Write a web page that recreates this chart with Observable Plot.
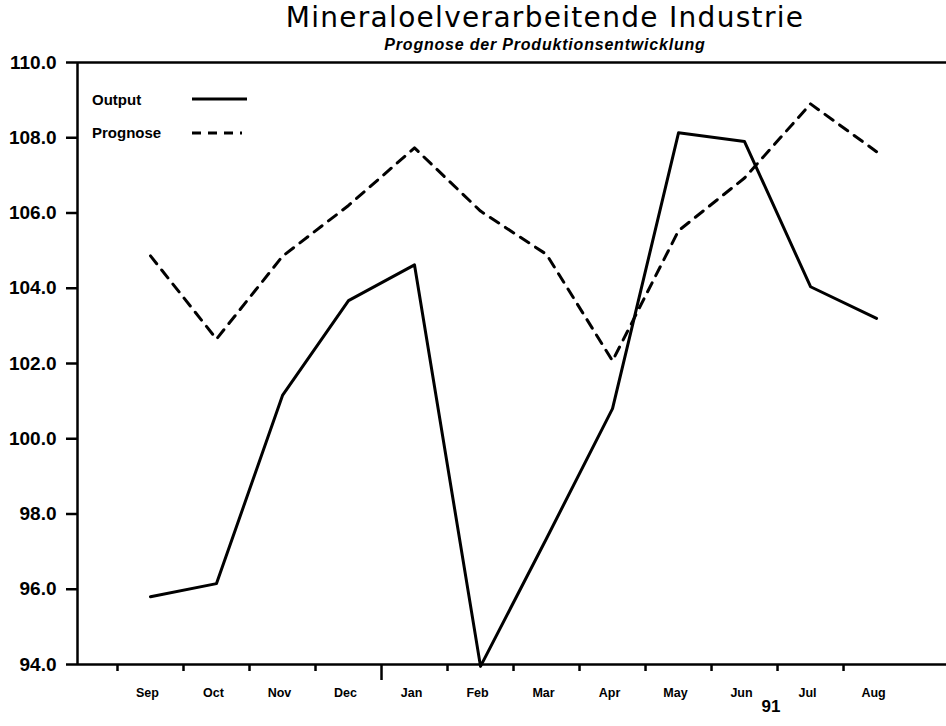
<!DOCTYPE html>
<html>
<head>
<meta charset="utf-8">
<script src="https://cdn.jsdelivr.net/npm/d3@7"></script>
<script src="https://cdn.jsdelivr.net/npm/@observablehq/plot@0.6"></script>
<style>
  body { margin: 0; background: #fff; }
  #wrap { position: relative; width: 946px; height: 726px; background: #fff; font-family: "Liberation Sans", Arial, sans-serif; color: #000; }
  #title { position: absolute; z-index: 2; left: 0; width: 1090px; top: 3px; text-align: center; font-family: "DejaVu Sans", sans-serif; font-size: 28px; line-height: 30px; font-weight: normal; letter-spacing: 1.3px; }
  #subtitle { position: absolute; z-index: 2; left: 0; width: 1090px; top: 36px; text-align: center; font-size: 16px; line-height: 18px; font-weight: bold; font-style: italic; letter-spacing: 0.8px; }
  #chart { position: absolute; z-index: 1; left: 0; top: 54px; }
  #legend { position: absolute; z-index: 2; left: 92px; top: 89px; font-size: 15px; font-weight: bold; }
  .li { position: absolute; left: 0; white-space: nowrap; height: 22px; line-height: 22px; }
  .li svg { position: absolute; left: 100px; top: 0; }
</style>
</head>
<body>
<div id="wrap">
  <div id="chart"></div>
  <div id="title">Mineraloelverarbeitende Industrie</div>
  <div id="subtitle">Prognose der Produktionsentwicklung</div>
  <div id="legend">
    <div class="li" style="top:0px">Output<svg width="60" height="22"><line x1="0" x2="55" y1="10" y2="10" stroke="#000" stroke-width="3"/></svg></div>
    <div class="li" style="top:33px">Prognose<svg width="60" height="22"><line x1="0" x2="50" y1="11" y2="11" stroke="#000" stroke-width="3" stroke-dasharray="9,7"/></svg></div>
  </div>
</div>
<script>
// ---- data ----
const months = ["Sep","Oct","Nov","Dec","Jan","Feb","Mar","Apr","May","Jun","Jul","Aug"];
const output = [95.8, 96.15, 101.15, 103.67, 104.62, 93.95, 97.35, 100.8, 108.13, 107.9, 104.04, 103.2];
const prognose = [104.86, 102.65, 104.85, 106.2, 107.73, 106.05, 104.9, 102.07, 105.53, 106.93, 108.9, 107.63];
const yTicks = [94, 96, 98, 100, 102, 104, 106, 108, 110];
const yearLabel = "91";

const monthIdx = months.map((m, i) => i + 1);
const outData = months.map((m, i) => ({i: i + 1, v: output[i]}));
const progData = months.map((m, i) => ({i: i + 1, v: prognose[i]}));
const halfTicks = d3.range(0.5, 12, 1).filter(t => t !== 4.5);

const font = "Liberation Sans, Arial, sans-serif";

const chart = Plot.plot({
  width: 946,
  height: 672,
  marginLeft: 77,
  marginRight: 0,
  marginTop: 8,
  marginBottom: 62,
  style: {fontFamily: font, background: "transparent", color: "#000", overflow: "visible"},
  x: {domain: [-0.106, 13.06]},
  y: {domain: [94, 110]},
  marks: [
    Plot.axisY({ticks: yTicks, tickSize: 11, tickPadding: 10, tickFormat: d => d.toFixed(1),
      fontSize: 19, fontWeight: "bold", strokeWidth: 2.5, label: null}),
    Plot.axisX({ticks: halfTicks, tickSize: 7, tickFormat: () => "", strokeWidth: 2.5, label: null}),
    Plot.axisX({ticks: [4.5], tickSize: 16, tickFormat: () => "", strokeWidth: 2.5, label: null}),
    Plot.axisX({ticks: monthIdx, tickSize: 0, tickPadding: 24, tickFormat: i => months[i - 1],
      fontSize: 12.5, fontWeight: "bold", dx: -3, label: null}),
    Plot.ruleX([-0.106], {y1: 94, y2: 110, strokeWidth: 2.5}),
    Plot.ruleY([94], {strokeWidth: 2.5}),
    Plot.ruleY([110], {strokeWidth: 2.5}),
    Plot.line(outData, {x: "i", y: "v", stroke: "#000", strokeWidth: 3}),
    Plot.line(progData, {x: "i", y: "v", stroke: "#000", strokeWidth: 3, strokeDasharray: "10,8"}),
    Plot.text([yearLabel], {x: 10.4, frameAnchor: "bottom", dy: 47, text: d => d, fontSize: 17, fontWeight: "bold"})
  ]
});
document.getElementById("chart").appendChild(chart);
</script>
</body>
</html>
